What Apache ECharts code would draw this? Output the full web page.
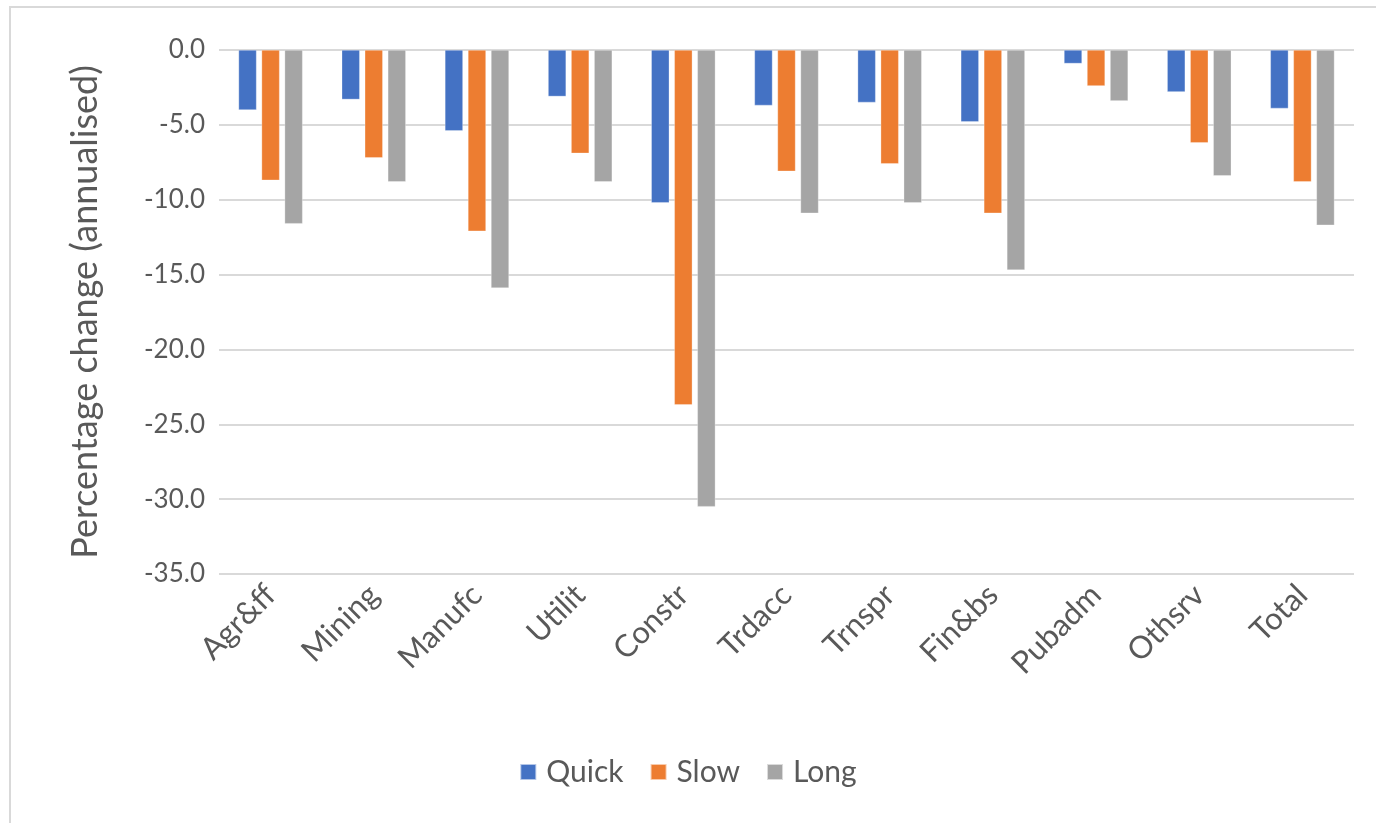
<!DOCTYPE html>
<html>
<head>
<meta charset="utf-8">
<script src="https://cdn.jsdelivr.net/npm/echarts@6/dist/echarts.min.js"></script>
<style>
html,body{margin:0;padding:0;background:#fff;}
#chart{width:1376px;height:823px;}
</style>
</head>
<body>
<div id="chart"></div>
<script>
const categories = ["Agr&ff","Mining","Manufc","Utilit","Constr","Trdacc","Trnspr","Fin&bs","Pubadm","Othsrv","Total"];
const quick = [-4.0,-3.3,-5.4,-3.1,-10.2,-3.7,-3.5,-4.8,-0.9,-2.8,-3.9];
const slow  = [-8.7,-7.2,-12.1,-6.9,-23.7,-8.1,-7.6,-10.9,-2.4,-6.2,-8.8];
const long  = [-11.6,-8.8,-15.9,-8.8,-30.5,-10.9,-10.2,-14.7,-3.4,-8.4,-11.7];
const seriesNames = ["Quick","Slow","Long"];
const yAxisTitle = "Percentage change (annualised)";

const font = "Lato, 'Open Sans', sans-serif";
const textColor = "#595959";
const chart = echarts.init(document.getElementById('chart'));
const mk = (name, data, color) => ({
  name, type: 'bar', data, barWidth: 18, barGap: '28%',
  itemStyle: {color, borderColor: 'rgba(255,255,255,0.6)', borderWidth: 0.5}
});
chart.setOption({
  animation: false,
  textStyle: {fontFamily: font, color: textColor},
  graphic: [{
    type: 'rect', silent: true,
    shape: {x: 10, y: 7, width: 1400, height: 900},
    style: {fill: 'none', stroke: '#D9D9D9', lineWidth: 2}
  }],
  grid: {left: 219, right: 22, top: 50, height: 524},
  legend: {
    bottom: 31, left: 'center',
    itemWidth: 16, itemHeight: 16, itemGap: 26,
    icon: 'rect',
    textStyle: {fontFamily: font, fontSize: 30, color: textColor, padding: [0,0,0,5]},
    data: seriesNames
  },
  xAxis: {
    type: 'category', data: categories,
    axisLine: {show: false, onZero: false},
    axisTick: {show: false},
    axisLabel: {rotate: 45, fontSize: 31, color: textColor, fontFamily: font, margin: 16, interval: 0}
  },
  yAxis: {
    type: 'value', min: -35, max: 0, interval: 5,
    name: yAxisTitle, nameLocation: 'middle', nameGap: 116,
    nameTextStyle: {fontSize: 36, color: textColor, fontFamily: font},
    axisLine: {show: false}, axisTick: {show: false},
    axisLabel: {fontSize: 26, color: textColor, fontFamily: font, margin: 14, formatter: v => v.toFixed(1)},
    splitLine: {lineStyle: {color: '#D9D9D9', width: 2}}
  },
  series: [
    mk(seriesNames[0], quick, '#4472C4'),
    mk(seriesNames[1], slow, '#ED7D31'),
    mk(seriesNames[2], long, '#A5A5A5')
  ]
});
</script>
</body>
</html>
